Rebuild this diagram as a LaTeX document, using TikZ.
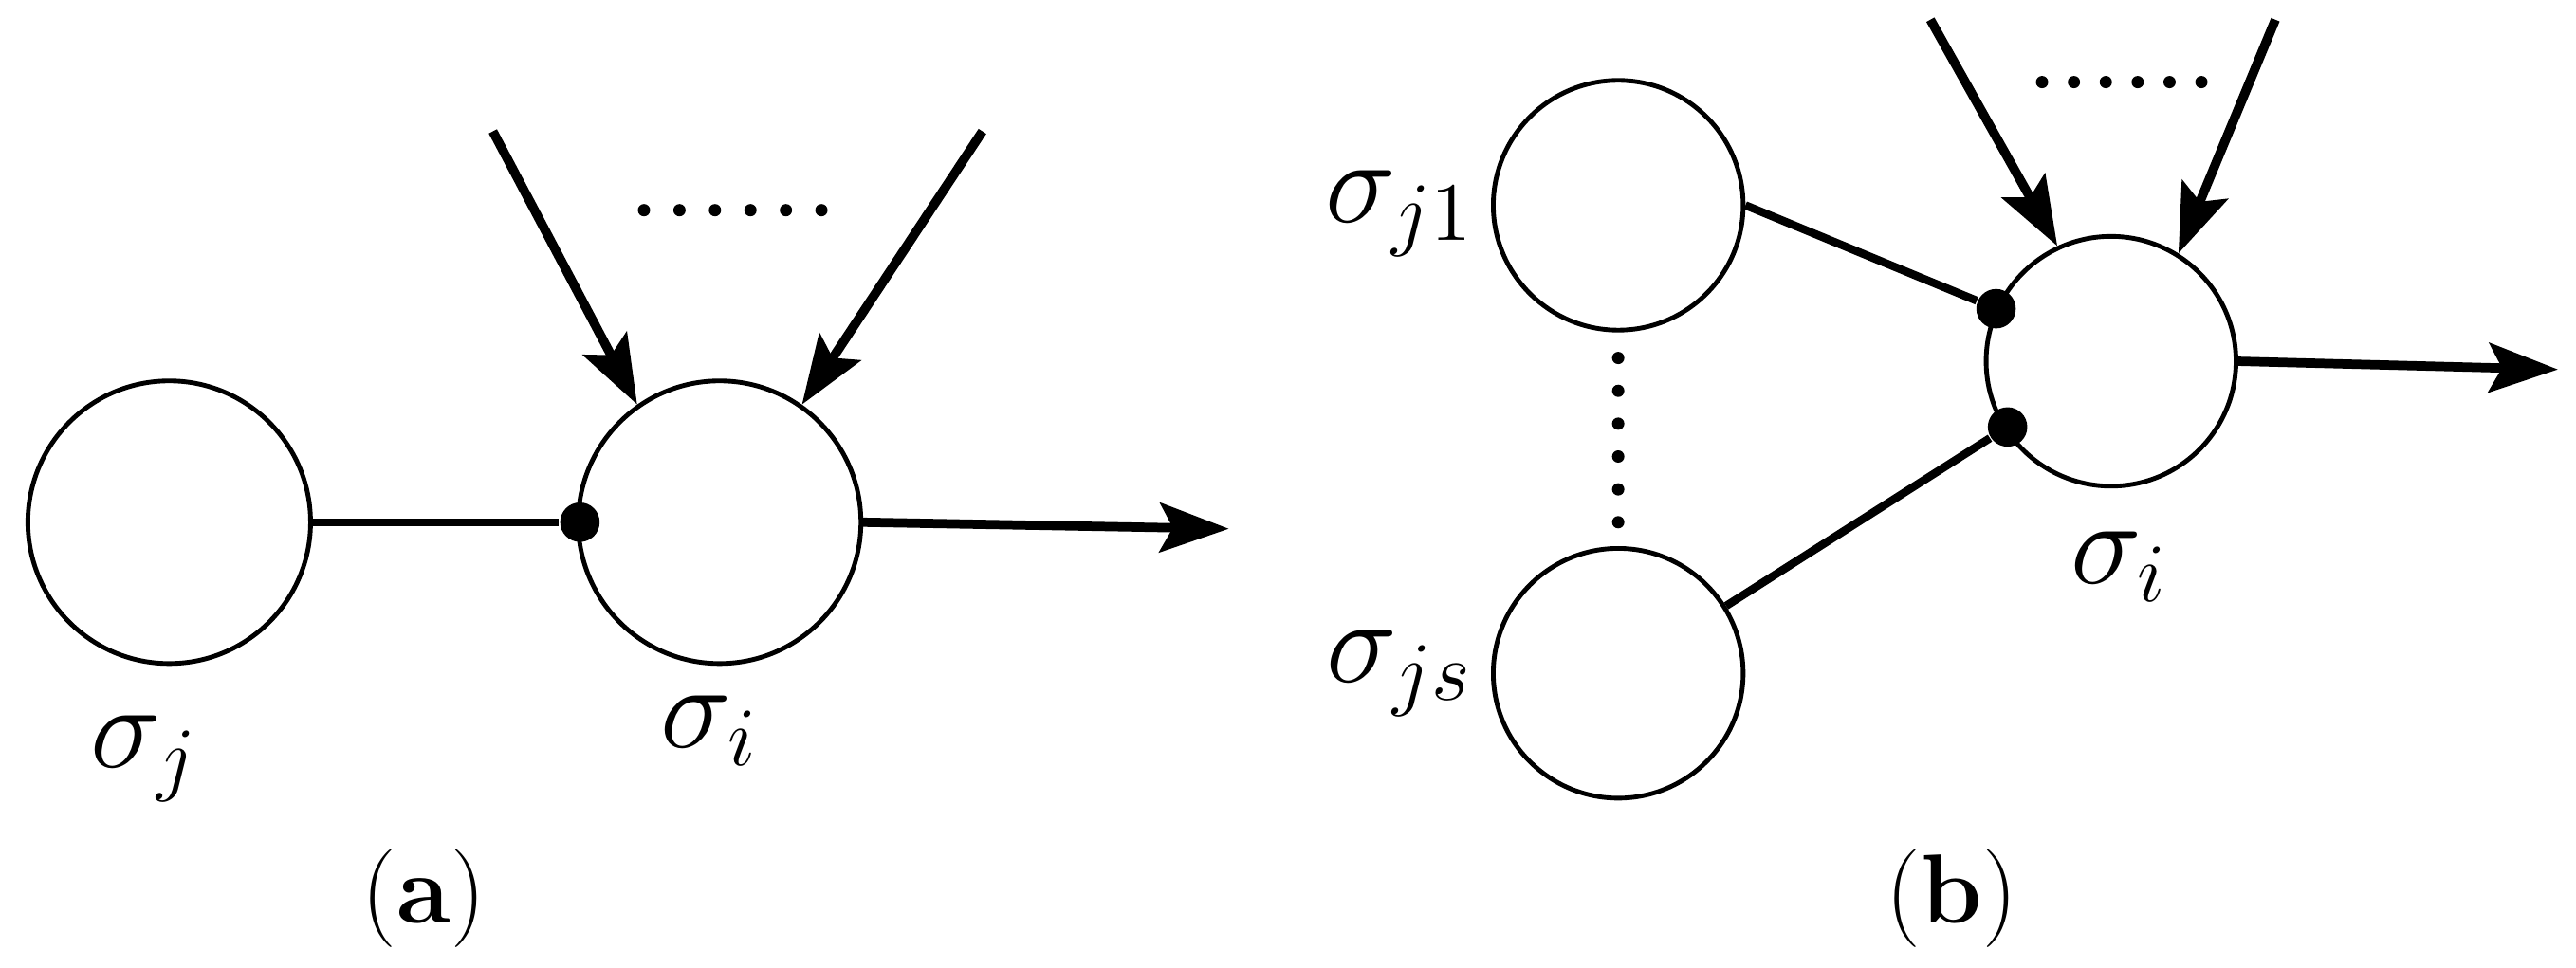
\documentclass[tikz,border=0pt]{standalone}
\usetikzlibrary{arrows.meta}
\begin{document}
\begin{tikzpicture}[x=0.01cm,y=-0.01cm,
  big/.style={circle,draw,line width=0.8pt,inner sep=0pt},
  dot/.style={circle,fill,inner sep=0pt,minimum size=0.24cm},
  sd/.style={circle,fill,inner sep=0pt,minimum size=0.075cm},
  ln/.style={line width=1.4pt},
  arr/.style={line width=1.6pt,-{Stealth[length=0.42cm,width=0.3cm,inset=0.08cm]}},
  lab/.style={font=\fontsize{22}{26}\selectfont},
  captxt/.style={font=\fontsize{17}{20}\selectfont}]
\useasboundingbox (0,0) rectangle (1568,589);
% (a)
\node[big,minimum size=1.72cm] (sj) at (103,318) {};
\node[big,minimum size=1.72cm] (si) at (438,318) {};
\node[dot] (da) at (353,318) {};
\draw[ln] (sj.east) -- (da);
\coordinate (oa) at (748,322);
\draw[arr] (si.east) -- (oa);
\coordinate (ia1) at (300,80);
\coordinate (ia2) at (598,80);
\draw[arr] (ia1) -- (si.125);
\draw[arr] (ia2) -- (si.55);
\foreach \k in {0,...,5} \node[sd] (pa\k) at (392+21.6*\k,128) {};
\node[lab] (lj) at (88,462) {$\sigma_{j}$};
\node[lab] (li) at (432,445) {$\sigma_{i}$};
\node[captxt] (ca) at (258,547) {(\textbf{a})};
% (b)
\node[big,minimum size=1.52cm] (s1) at (985,125) {};
\node[big,minimum size=1.52cm] (ss) at (985,410) {};
\node[big,minimum size=1.52cm] (sb) at (1285,220) {};
\node[dot] (d1) at (1215,188) {};
\node[dot] (d2) at (1222,260) {};
\draw[ln] (s1.east) -- (d1);
\draw[ln] (ss.32) -- (d2);
\coordinate (ob) at (1557,225);
\draw[arr] (sb.east) -- (ob);
\coordinate (ib1) at (1175,12);
\coordinate (ib2) at (1385,12);
\draw[arr] (ib1) -- (sb.115);
\draw[arr] (ib2) -- (sb.58);
\foreach \k in {0,...,5} \node[sd] (pb\k) at (1243+19.4*\k,50) {};
\foreach \k in {0,...,5} \node[sd] (pv\k) at (985,218+20*\k) {};
\node[lab] (l1) at (852,130) {$\sigma_{j1}$};
\node[lab] (ls) at (852,410) {$\sigma_{js}$};
\node[lab] (lb) at (1290,345) {$\sigma_{i}$};
\node[captxt] (cb) at (1188,547) {(\textbf{b})};
\end{tikzpicture}
\end{document}
